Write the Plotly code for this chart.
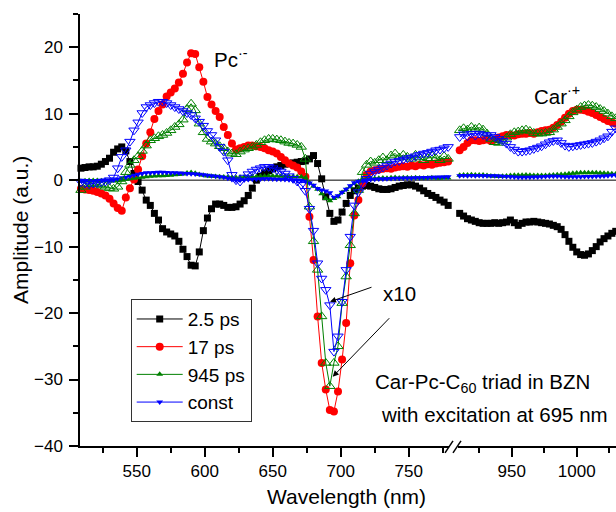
import plotly.graph_objects as go

# ---------------- data ----------------
wl_left = [509, 512, 515, 518, 521, 524, 527, 530, 533, 536,
           539, 542, 545, 548, 551, 554, 557, 560, 563, 566,
           569, 572, 575, 578, 581, 584, 587, 590, 593, 596,
           599, 602, 605, 608, 611, 614, 617, 620, 623, 626,
           629, 632, 635, 638, 641, 644, 647, 650, 653, 656,
           659, 662, 665, 668, 671, 674, 677, 680, 683, 686,
           689, 692, 695, 698, 701, 704, 707, 710, 713, 716,
           719, 722, 725, 728, 731, 734, 737, 740, 743, 746,
           749, 752, 755, 758, 761, 764, 767, 770, 773, 776,
           779]
wl_right = [910, 913, 916, 919, 922, 925, 928, 931, 934, 937,
            940, 943, 946, 949, 952, 955, 958, 961, 964, 967,
            970, 973, 976, 979, 982, 985, 988, 991, 994, 997,
            1000, 1003, 1006, 1009, 1012, 1015, 1018, 1021, 1024, 1027,
            1030]

amp_2p5ps_left = [1.8, 1.9, 2.0, 2.0, 2.1, 2.4, 2.8, 3.3, 4.2, 4.7,
                  5.0, 4.4, 2.8, 1.0, -0.2, -1.5, -3.0, -3.8, -5.0, -6.0,
                  -7.3, -7.8, -8.1, -8.4, -9.2, -10.4, -11.5, -12.8, -12.9, -10.8,
                  -7.6, -5.7, -4.3, -3.6, -3.6, -3.8, -4.1, -4.1, -4.0, -3.6,
                  -3.1, -2.3, -1.2, 0.0, 0.6, 1.1, 1.4, 1.7, 2.0, 2.2,
                  2.4, 2.5, 2.6, 2.7, 2.8, 2.9, 3.2, 3.7, 2.5, 0.2,
                  -2.5, -5.0, -6.2, -6.0, -4.8, -3.5, -2.3, -1.6, -1.2, -0.9,
                  -0.8, -0.9, -1.1, -1.3, -1.4, -1.4, -1.3, -1.1, -0.9, -0.8,
                  -0.7, -0.7, -0.9, -1.2, -1.6, -2.0, -2.3, -2.6, -3.0, -3.3,
                  -3.8]
amp_2p5ps_right = [-5.0, -5.4, -5.8, -6.0, -6.2, -6.4, -6.5, -6.5, -6.5, -6.4,
                   -6.5, -6.4, -6.3, -6.0, -6.4, -6.8, -6.5, -6.3, -6.3, -6.2,
                   -6.3, -6.4, -6.5, -6.6, -6.8, -7.0, -7.4, -8.2, -9.2, -10.1,
                   -10.8, -11.2, -11.3, -11.1, -10.6, -10.0, -9.3, -8.8, -8.4, -8.0,
                   -7.7]

amp_17ps_left = [-1.3, -1.4, -1.5, -1.6, -1.8, -2.0, -2.3, -2.8, -3.5, -4.2,
                 -4.6, -2.6, -1.2, 0.1, 1.6, 3.6, 5.5, 7.2, 9.2, 10.4,
                 11.4, 12.6, 13.2, 13.8, 14.7, 16.0, 17.7, 19.1, 19.0, 17.0,
                 14.8, 12.5, 11.4, 10.4, 9.5, 8.0, 6.8, 5.5, 4.6, 4.8,
                 5.0, 5.2, 5.2, 5.1, 5.0, 4.8, 4.5, 4.3, 4.0, 3.5,
                 3.0, 2.5, 2.2, 1.9, 1.3, 0.5, -5.5, -12.0, -20.5, -27.5,
                 -31.5, -34.6, -34.8, -31.8, -27.0, -21.5, -12.5, -5.3, -3.0, -0.5,
                 0.8, 1.3, 1.5, 1.6, 1.7, 1.8, 1.7, 1.9, 2.0, 2.1,
                 2.0, 2.2, 2.1, 2.3, 2.2, 2.4, 2.3, 2.5, 2.6, 2.7,
                 2.8]
amp_17ps_right = [4.5, 5.0, 5.6, 6.0, 6.0, 5.9, 6.0, 6.1, 5.9, 6.1,
                  6.4, 6.6, 6.8, 6.8, 6.7, 6.9, 7.0, 7.0, 7.1, 7.0,
                  7.2, 7.4, 7.5, 7.6, 7.9, 8.3, 8.8, 9.4, 10.0, 10.4,
                  10.6, 10.6, 10.5, 10.3, 10.1, 9.8, 9.5, 9.2, 8.9, 8.7,
                  8.5]

# 945 ps and const components, as drawn magnified x10 (open symbols)
amp_945ps_x10_left = [-1.5, -1.0, -0.6, -0.5, -0.6, -0.8, -1.0, -1.2, -1.3, -1.0,
                      -0.2, 1.2, 2.3, 3.0, 3.6, 4.4, 5.2, 6.0, 6.3, 6.6,
                      6.8, 7.1, 7.5, 8.0, 8.4, 9.1, 10.7, 11.5, 10.5, 8.5,
                      7.2, 6.2, 5.8, 5.5, 5.1, 4.8, 4.3, 4.0, 3.9, 4.3,
                      4.6, 4.8, 5.0, 5.3, 5.7, 6.0, 6.2, 6.2, 6.1, 6.0,
                      5.8, 5.6, 5.5, 5.3, 5.0, 3.2, -4.0, -9.2, -13.5, -20.5,
                      -27.5, -31.0, -27.5, -25.0, -18.5, -14.5, -9.8, -5.0, -1.5, 1.2,
                      2.3, 2.8, 2.6, 3.0, 3.4, 3.0, 3.7, 4.0, 3.4, 3.8,
                      3.5, 3.2, 3.8, 3.4, 3.0, 3.3, 3.7, 3.3, 3.0, 3.6,
                      3.2]
amp_945ps_x10_right = [7.5, 7.8, 7.6, 8.0, 7.7, 7.9, 7.6, 7.0, 6.2, 5.7,
                       5.6, 5.9, 6.4, 6.9, 7.2, 7.3, 7.5, 7.6, 7.4, 7.1,
                       7.0, 7.0, 7.1, 7.2, 7.6, 8.0, 8.5, 9.0, 9.6, 10.2,
                       10.6, 11.0, 11.2, 11.3, 11.2, 11.0, 10.7, 10.4, 10.0, 9.6,
                       9.3]
amp_const_x10_left = [-0.3, -0.5, -0.6, -0.5, -0.4, -0.3, -0.2, 0.0, 0.4, 1.8,
                      3.5, 4.5, 5.8, 7.5, 8.7, 10.1, 11.0, 11.3, 11.6, 11.8,
                      11.8, 11.6, 11.3, 11.0, 10.7, 10.4, 10.1, 9.8, 9.3, 8.8,
                      8.2, 7.4, 6.8, 6.0, 5.0, 4.3, 3.0, 0.8, 0.0, -0.2,
                      0.4, 0.9, 1.3, 1.6, 1.8, 2.0, 2.0, 1.8, 1.5, 1.3,
                      1.0, 0.6, 0.2, -0.2, -0.7, -1.6, -4.3, -7.6, -12.5, -14.8,
                      -16.5, -18.8, -25.8, -23.5, -18.3, -13.5, -8.5, -3.8, -1.8, -0.6,
                      0.2, 1.0, 1.3, 1.6, 1.9, 2.2, 2.5, 2.8, 2.9, 3.1,
                      3.3, 3.4, 3.6, 3.8, 4.0, 4.1, 4.3, 4.5, 4.6, 4.8,
                      5.0]
amp_const_x10_right = [6.5, 6.9, 6.6, 7.0, 6.7, 7.0, 6.8, 6.6, 6.8, 6.5,
                       6.2, 5.9, 5.5, 5.0, 4.6, 4.3, 4.3, 4.4, 4.5, 4.7,
                       4.9, 5.1, 5.4, 5.7, 5.9, 6.0, 5.6, 5.2, 5.0, 5.1,
                       5.2, 5.3, 5.4, 5.5, 5.6, 5.8, 6.0, 6.3, 6.6, 7.3,
                       7.8]
MAGNIFY = 10  # the open-symbol curves are the 945 ps / const components x10

series_names = ["2.5 ps", "17 ps", "945 ps", "const"]
x_ticks_left = [550, 600, 650, 700, 750]
x_ticks_right = [950, 1000]

# ---------------- styling ----------------
FONT = "Arial, Liberation Sans, sans-serif"
BLACK, RED, GREEN, BLUE = "#000000", "#ff0000", "#008000", "#0000ff"

fig = go.Figure()


def add(x, y, axis, name, color, symbol, size, legend, open_sym=False):
    fig.add_trace(go.Scatter(
        x=x, y=y, xaxis=axis, yaxis="y", mode="lines+markers", name=name,
        legendgroup=name, showlegend=legend, cliponaxis=False,
        line=dict(color=color, width=1),
        marker=dict(symbol=symbol, size=size, color=color,
                    line=dict(width=1 if open_sym else 0, color=color)),
    ))


def scaled(vals):
    return [v / MAGNIFY for v in vals]


for axis, wl, a25, a17, g10, b10 in [
    ("x", wl_left, amp_2p5ps_left, amp_17ps_left, amp_945ps_x10_left, amp_const_x10_left),
    ("x2", wl_right, amp_2p5ps_right, amp_17ps_right, amp_945ps_x10_right, amp_const_x10_right),
]:
    first = axis == "x"
    add(wl, a25, axis, series_names[0], BLACK, "square", 7, first)
    add(wl, a17, axis, series_names[1], RED, "circle", 8, first)
    add(wl, scaled(g10), axis, series_names[2], GREEN, "triangle-up", 6, first)
    add(wl, scaled(b10), axis, series_names[3], BLUE, "triangle-down", 6, first)
    add(wl, g10, axis, series_names[2] + " x10", GREEN, "triangle-up-open", 9, False, True)
    add(wl, b10, axis, series_names[3] + " x10", BLUE, "triangle-down-open", 9, False, True)

axis_style = dict(
    showline=True, linecolor=BLACK, linewidth=1.5, mirror=False,
    ticks="outside", ticklen=9, tickwidth=1.5, tickcolor=BLACK,
    showgrid=False, zeroline=False,
    tickfont=dict(family=FONT, size=17, color=BLACK),
)

fig.update_layout(
    width=616, height=512,
    margin=dict(l=80, r=0, t=14, b=66),
    paper_bgcolor="white", plot_bgcolor="white",
    font=dict(family=FONT, color=BLACK),
    xaxis=dict(domain=[0, 0.6884], range=[508.3, 779.6], anchor="y",
               tickmode="array", tickvals=x_ticks_left,
               minor=dict(tick0=500, dtick=25, ticks="outside", ticklen=5,
                          tickwidth=1.5, tickcolor=BLACK),
               **axis_style),
    xaxis2=dict(domain=[0.7052, 1], range=[908.7, 1030.2], anchor="y",
                tickmode="array", tickvals=x_ticks_right,
                minor=dict(tick0=900, dtick=25, ticks="outside", ticklen=5,
                           tickwidth=1.5, tickcolor=BLACK),
                **axis_style),
    yaxis=dict(domain=[0, 1], range=[-40, 25], anchor="x",
               tick0=0, dtick=10, ticklabelstandoff=3,
               minor=dict(tick0=0, dtick=5, ticks="outside", ticklen=5,
                          tickwidth=1.5, tickcolor=BLACK),
               **axis_style),
    legend=dict(x=0.0946, y=0.340, xanchor="left", yanchor="top",
                bgcolor="white", bordercolor="#333333", borderwidth=1,
                font=dict(family=FONT, size=19, color=BLACK),
                itemwidth=46, tracegroupgap=0),
    showlegend=True,
)

# zero reference line across both segments
fig.add_shape(type="line", xref="paper", yref="y", x0=0, x1=1, y0=0, y1=0,
              line=dict(color=BLACK, width=1), layer="below")

# axis-break slashes
for x0, x1 in [(0.681, 0.6959), (0.6959, 0.7108)]:
    fig.add_shape(type="line", xref="paper", yref="paper",
                  x0=x0, x1=x1, y0=-0.016, y1=0.012,
                  line=dict(color=BLACK, width=1.5))

ann_font = dict(family=FONT, size=20.5, color=BLACK)
title_font = dict(family=FONT, size=21, color=BLACK)
anns = [
    dict(text="Pc<sup>·-</sup>", x=0.2463, y=0.897, xanchor="left", yanchor="middle",
         font=ann_font),
    dict(text="Car<sup>·+</sup>", x=0.843, y=0.812, xanchor="left", yanchor="middle",
         font=ann_font),
    dict(text="x10", x=0.597, y=0.353, xanchor="center", yanchor="middle",
         font=ann_font),
    dict(text="Car-Pc-C<sub>60</sub> triad in BZN", x=0.5466, y=0.146,
         xanchor="left", yanchor="middle", font=ann_font),
    dict(text="with excitation at 695 nm", x=0.5578, y=0.072,
         xanchor="left", yanchor="middle", font=ann_font),
    dict(text="Wavelength (nm)", x=0.498, y=-0.118, xanchor="center", yanchor="middle",
         font=title_font),
    dict(text="Amplitude (a.u.)", x=-0.112, y=0.5, xanchor="center", yanchor="middle",
         textangle=-90, font=title_font),
]
for a in anns:
    fig.add_annotation(xref="paper", yref="paper", showarrow=False, **a)

# arrows pointing to the magnified curves
for hx, hy, ax, ay in [(0.4664, 0.334, 43, -15), (0.4715, 0.1604, 58, -60)]:
    fig.add_annotation(xref="paper", yref="paper", x=hx, y=hy, ax=ax, ay=ay,
                       text="", showarrow=True, arrowhead=2, arrowsize=1.2,
                       arrowwidth=1, arrowcolor=BLACK)

fig.write_html("out.html")
